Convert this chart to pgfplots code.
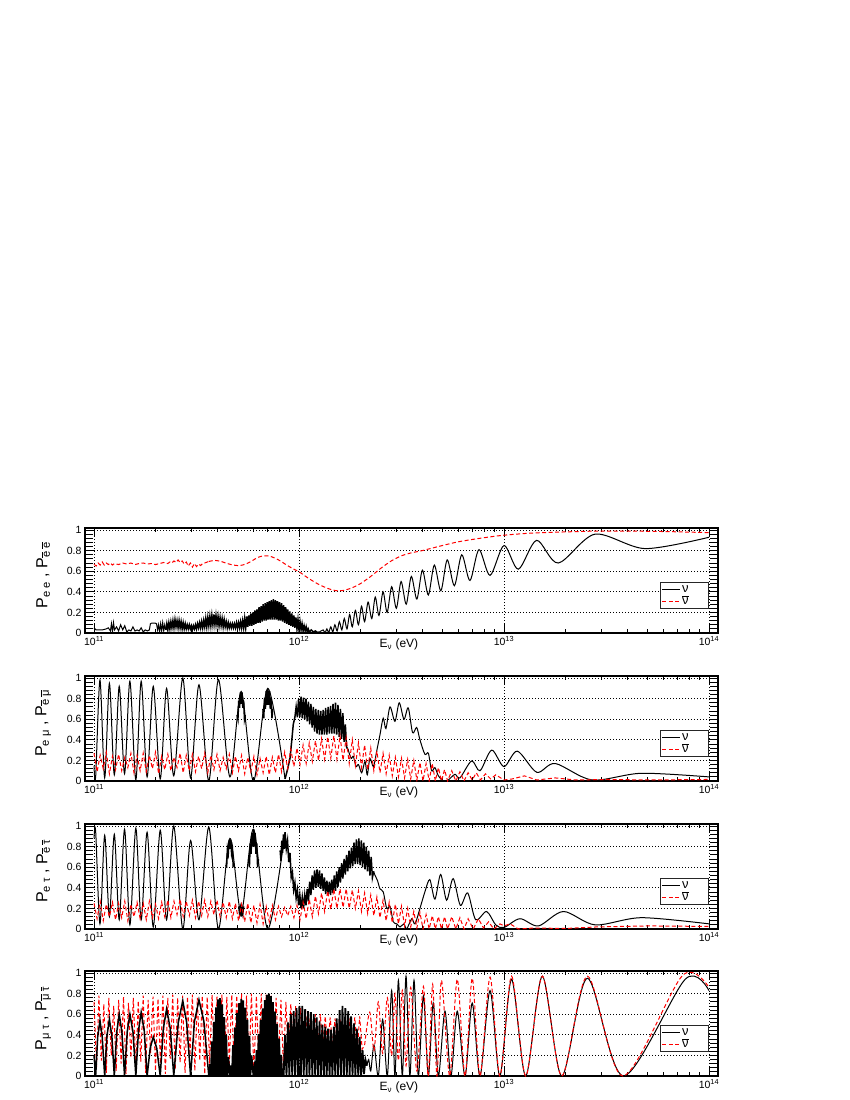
\documentclass[border=0pt]{standalone}
\usepackage{fontspec}
\setmainfont{Liberation Sans}
\usepackage{amsmath}
\usepackage{pgfplots}
\pgfplotsset{compat=1.18}

% bar over a letter (nu-bar, e-bar ...)
\newcommand{\ob}[1]{\leavevmode\setbox0\hbox{#1}\rlap{\raisebox{\dimexpr\ht0+0.7pt\relax}{\rule{\wd0}{1pt}}}\box0}
\newcommand{\nulegend}{%
  \addlegendimage{legend image code/.code={\draw[black, line width=1.3pt] (0pt,0pt) -- (18pt,0pt);}}
  \addlegendentry{ν\hspace*{17pt}\mbox{}}
  \addlegendimage{legend image code/.code={\draw[red, line width=1.3pt, dash pattern=on 4pt off 2.5pt] (0pt,0pt) -- (18pt,0pt);}}
  \addlegendentry{\ob{ν}\hspace*{17pt}\mbox{}}}

\pgfplotsset{
  nub/.style={draw=black, black, line width=1pt, no marks},
  nubd/.style={draw=black, black, line width=1.5pt, no marks},
  nubf/.style={draw=black, black, line width=1.8pt, no marks},
  nur/.style={draw=red, red, line width=1pt, no marks, dash pattern=on 4pt off 2.5pt},
  nuaxis/.style={
    at={(85pt,#1)}, anchor=south west,
    width=633pt, height=105pt, scale only axis,
    xmin=10.956, xmax=14.044, ymin=0, ymax=1.02,
    xtick={11,12,13,14},
    xticklabels={10\textsuperscript{11},10\textsuperscript{12},10\textsuperscript{13},10\textsuperscript{14}},
    minor xtick={11.301,11.477,11.602,11.699,11.778,11.845,11.903,11.954,
                 12.301,12.477,12.602,12.699,12.778,12.845,12.903,12.954,
                 13.301,13.477,13.602,13.699,13.778,13.845,13.903,13.954},
    ytick={0,0.2,0.4,0.6,0.8,1}, yticklabels={0,0.2,0.4,0.6,0.8,1},
    minor y tick num=4,
    tick align=inside,
    major tick length=9pt, minor tick length=8pt,
    xtick style={/pgfplots/minor tick length=4pt},
    tick style={black, line width=0.8pt},
    grid=major, grid style={black, line width=0.7pt, dash pattern=on 1pt off 2pt},
    axis line style={line width=1.3pt},
    ticklabel style={font=\fontsize{10.5}{12}\selectfont},
    xlabel={E\textsubscript{ν} (eV)},
    xlabel style={at={(axis description cs:0.532,0)}, anchor=north east, yshift=-2pt, font=\fontsize{12}{13}\selectfont},
    ylabel style={at={(axis description cs:-0.066,0.55)}, anchor=center, font=\fontsize{16}{17}\selectfont},
    legend style={at={(axis description cs:0.985,0.23)}, anchor=south east, draw=black!85, line width=0.9pt,
      fill=white, font=\fontsize{13}{13}\selectfont, row sep=0pt, inner sep=1.5pt,
      nodes={inner sep=1pt, text height=8pt, text depth=1.5pt}},
    legend cell align=left,
  }
}

\begin{document}
\begin{tikzpicture}
\path[use as bounding box] (0,0) rectangle (850pt,-1100pt);

%% ---------------- P_ee ----------------
\begin{axis}[nuaxis={-633pt}, ylabel={P\textsubscript{e\;e} , P\textsubscript{\ob{e}\;\ob{e}}}]
\nulegend
\addplot[nub, forget plot] coordinates {
(11.00,0.05)(11.01,0.03)(11.02,0.03)(11.04,0.03)(11.06,0.04)(11.07,0.05)(11.08,0.02)(11.085,0.09)(11.09,0.01)(11.095,0.1)(11.10,0.03)
(11.11,0.06)(11.12,0.02)(11.13,0.08)(11.14,0.03)(11.15,0.07)(11.16,0.01)(11.17,0.03)(11.18,0.02)(11.19,0.06)(11.20,0.02)(11.21,0.03)
(11.22,0.02)(11.23,0.05)(11.24,0.01)(11.25,0.03)(11.26,0.02)(11.27,0.03)(11.275,0.09)(11.28,0.095)(11.30,0.095)(11.305,0.09)(11.31,0.03)
(11.315,0.08)(11.32,0.01)(11.325,0.09)(11.33,0.02)(11.335,0.1)(11.34,0.02)(11.345,0.08)(11.35,0.03)
};
\addplot[nubd, forget plot] coordinates {
(11.35,0.03)(11.355,0.09)(11.36,0.03)(11.365,0.1)
(11.37,0.04)(11.375,0.11)(11.38,0.05)(11.385,0.12)(11.39,0.05)(11.395,0.13)(11.40,0.06)(11.405,0.12)(11.41,0.05)(11.415,0.12)(11.42,0.05)
(11.425,0.11)(11.43,0.04)(11.435,0.1)(11.44,0.04)(11.445,0.09)(11.45,0.04)(11.455,0.08)(11.46,0.04)(11.465,0.08)(11.47,0.04)(11.475,0.07)
(11.48,0.03)(11.485,0.07)(11.49,0.04)(11.495,0.08)(11.50,0.04)(11.505,0.09)(11.51,0.05)(11.515,0.1)(11.52,0.05)(11.525,0.11)(11.53,0.05)
(11.535,0.12)(11.54,0.06)(11.545,0.14)(11.55,0.06)(11.555,0.15)(11.56,0.07)(11.565,0.16)(11.57,0.07)(11.575,0.17)(11.58,0.08)(11.585,0.18)
(11.59,0.08)(11.595,0.17)(11.60,0.08)(11.605,0.16)(11.61,0.07)(11.615,0.15)(11.62,0.07)(11.625,0.14)(11.63,0.06)(11.635,0.13)(11.64,0.06)
(11.645,0.11)(11.65,0.05)(11.655,0.1)(11.66,0.05)(11.665,0.09)(11.67,0.05)(11.675,0.09)(11.68,0.05)(11.685,0.09)(11.69,0.05)(11.695,0.1)
(11.70,0.05)(11.705,0.1)(11.71,0.05)(11.715,0.11)(11.72,0.05)(11.725,0.12)(11.73,0.05)(11.735,0.14)(11.74,0.05)(11.745,0.16)(11.75,0.06)
(11.755,0.17)(11.76,0.07)(11.765,0.19)(11.77,0.07)(11.775,0.2)(11.78,0.08)(11.785,0.22)(11.79,0.09)(11.795,0.23)(11.80,0.1)(11.805,0.25)
(11.81,0.1)(11.815,0.26)(11.82,0.11)(11.825,0.28)(11.83,0.12)(11.835,0.29)(11.84,0.12)(11.845,0.3)(11.85,0.13)(11.855,0.31)(11.86,0.13)
(11.865,0.32)(11.87,0.13)(11.875,0.33)(11.88,0.13)(11.885,0.32)(11.89,0.13)(11.895,0.31)(11.90,0.12)(11.905,0.3)(11.91,0.12)(11.915,0.29)
(11.92,0.11)(11.925,0.27)(11.93,0.1)(11.935,0.25)(11.94,0.09)(11.945,0.23)(11.95,0.08)(11.955,0.21)(11.96,0.07)(11.965,0.19)(11.97,0.06)
(11.975,0.17)(11.98,0.05)(11.985,0.15)(11.99,0.04)(11.995,0.13)(12.00,0.03)(12.005,0.11)(12.01,0.03)(12.015,0.09)(12.02,0.02)(12.025,0.07)
(12.03,0.02)(12.035,0.06)(12.04,0.01)(12.045,0.04)(12.05,0.01)(12.06,0.03)(12.07,0.01)(12.08,0.02)(12.09,0.005)(12.10,0.01)
};
\addplot[nub, smooth, forget plot] coordinates {
(12.10,0.01)(12.118,0.03)(12.127,0.0)(12.136,0.04)(12.145,0.005)(12.155,0.06)(12.165,0.01)(12.175,0.08)(12.186,0.02)(12.197,0.11)
(12.209,0.03)(12.221,0.14)(12.234,0.04)(12.247,0.18)(12.26,0.06)(12.275,0.22)(12.29,0.08)(12.305,0.26)(12.32,0.11)(12.337,0.30)
(12.355,0.14)(12.372,0.35)(12.39,0.17)(12.41,0.40)(12.43,0.2)(12.452,0.45)(12.475,0.24)(12.498,0.50)(12.523,0.28)(12.548,0.55)
(12.575,0.33)(12.602,0.61)(12.631,0.37)(12.660,0.66)(12.692,0.41)(12.723,0.71)(12.758,0.46)(12.794,0.76)(12.834,0.51)(12.878,0.81)
(12.932,0.56)(13.0,0.85)(13.07,0.62)(13.159,0.90)(13.265,0.68)(13.444,0.96)(13.688,0.82)(14.0,0.93)
};
\addplot[nur, forget plot] coordinates {
(11.00,0.67)(11.01,0.65)(11.02,0.68)(11.03,0.66)(11.04,0.69)(11.05,0.66)(11.06,0.68)(11.07,0.665)(11.08,0.68)(11.09,0.66)(11.10,0.675)
(11.12,0.665)(11.14,0.68)(11.16,0.67)(11.18,0.68)(11.20,0.665)(11.22,0.675)(11.24,0.68)(11.26,0.67)(11.28,0.675)(11.30,0.665)(11.32,0.675)
(11.34,0.685)(11.36,0.675)(11.37,0.69)(11.38,0.68)(11.39,0.7)(11.40,0.685)(11.41,0.71)(11.42,0.685)(11.43,0.7)(11.44,0.67)(11.45,0.69)
(11.46,0.65)(11.47,0.68)(11.48,0.64)(11.49,0.675)(11.50,0.645)(11.51,0.67)(11.52,0.655)(11.53,0.675)(11.54,0.68)(11.56,0.695)
};
\addplot[nur, smooth, forget plot] coordinates {
(11.56,0.695)(11.59,0.705)(11.62,0.695)(11.65,0.675)(11.68,0.66)(11.71,0.655)(11.74,0.67)(11.77,0.7)(11.80,0.735)(11.83,0.75)(11.86,0.745)
(11.90,0.71)(11.94,0.66)(11.97,0.625)(12.0,0.595)(12.04,0.54)(12.08,0.49)(12.12,0.45)(12.16,0.42)(12.19,0.41)(12.22,0.415)(12.26,0.44)
(12.30,0.48)(12.35,0.55)(12.40,0.63)(12.45,0.70)(12.50,0.75)(12.55,0.78)(12.60,0.80)(12.70,0.85)(12.78,0.887)(12.9,0.925)(13.0,0.95)
(13.13,0.97)(13.265,0.98)(13.45,0.99)(13.6,0.99)(13.8,0.985)(14.0,0.975)
};
\end{axis}

%% ---------------- P_emu ----------------
\begin{axis}[nuaxis={-781pt}, ylabel={P\textsubscript{e\;μ} , P\textsubscript{\ob{e}\;\ob{μ}}}]
\nulegend
\addplot[nub, smooth, forget plot] coordinates {
(11.0,0.15)(11.008,0.04)(11.029,0.98)(11.052,0.03)(11.075,0.95)(11.099,0.06)(11.123,0.92)(11.149,0.07)(11.175,0.97)(11.204,0.01)
(11.23,0.97)(11.259,0.04)(11.289,0.92)(11.323,0.02)(11.354,0.90)(11.389,0.05)(11.433,1.0)(11.471,0.03)(11.512,0.935)(11.56,0.0)
(11.607,0.985)(11.663,0.04)(11.718,0.87)(11.778,0.0)(11.848,0.9)(11.932,0.02)
};
\addplot[nubd, forget plot] coordinates {
(11.698,0.64)(11.702,0.60)(11.706,0.78)(11.71,0.71)(11.714,0.86)(11.718,0.75)(11.722,0.86)(11.726,0.71)(11.73,0.78)(11.734,0.60)(11.738,0.64)
};
\addplot[nubd, forget plot] coordinates {
(11.824,0.70)(11.828,0.61)(11.832,0.81)(11.836,0.70)(11.84,0.876)(11.844,0.74)(11.848,0.9)(11.852,0.74)(11.856,0.876)(11.86,0.70)
(11.864,0.81)(11.868,0.61)(11.872,0.70)
};
\addplot[nubd, forget plot] coordinates {
(11.932,0.02)(11.945,0.12)(11.956,0.22)(11.965,0.4)(11.972,0.55)(11.98,0.62)(11.986,0.72)(11.992,0.62)(11.998,0.8)(12.004,0.62)
(12.01,0.82)(12.016,0.61)(12.022,0.81)(12.028,0.6)(12.034,0.8)(12.04,0.58)(12.046,0.77)(12.052,0.55)(12.058,0.75)(12.064,0.52)
(12.07,0.72)(12.076,0.48)(12.082,0.7)(12.088,0.46)(12.094,0.69)(12.10,0.45)(12.106,0.68)(12.112,0.45)(12.118,0.69)(12.124,0.45)
(12.13,0.71)(12.136,0.45)(12.142,0.72)(12.148,0.46)(12.154,0.73)(12.16,0.46)(12.166,0.75)(12.172,0.46)(12.178,0.76)(12.184,0.45)
(12.19,0.74)(12.196,0.43)(12.202,0.7)(12.208,0.41)(12.214,0.66)(12.22,0.38)(12.226,0.55)(12.232,0.33)(12.24,0.3)
};
\addplot[nub, smooth, forget plot] coordinates {
(12.24,0.3)(12.255,0.22)(12.265,0.24)(12.278,0.14)(12.29,0.16)(12.306,0.08)(12.322,0.19)(12.333,0.06)(12.346,0.22)(12.363,0.14)
(12.379,0.29)(12.395,0.45)(12.411,0.61)(12.424,0.51)(12.444,0.72)(12.468,0.58)(12.489,0.76)(12.512,0.6)(12.533,0.71)(12.554,0.47)
(12.574,0.52)(12.59,0.4)(12.614,0.26)(12.631,0.27)(12.647,0.1)(12.663,0.13)(12.68,0.05)(12.704,0.0)(12.728,0.01)(12.761,0.065)
(12.785,0.03)(12.842,0.195)(12.883,0.1)(12.94,0.3)(13.0,0.14)(13.065,0.29)(13.16,0.085)(13.25,0.17)(13.43,0.01)(13.67,0.075)(14.0,0.04)
};
\addplot[nur, forget plot] coordinates {
(11.000,0.27)(11.015,0.09)(11.030,0.25)(11.045,0.12)(11.060,0.28)(11.075,0.07)(11.090,0.24)(11.105,0.11)(11.120,0.26)(11.135,0.10)
(11.150,0.23)(11.165,0.13)(11.180,0.27)(11.195,0.08)(11.210,0.25)(11.225,0.10)(11.240,0.27)(11.255,0.09)(11.270,0.25)(11.285,0.12)
(11.300,0.28)(11.315,0.07)(11.330,0.24)(11.345,0.11)(11.360,0.26)(11.375,0.10)(11.390,0.23)(11.405,0.13)(11.420,0.27)(11.435,0.08)
(11.450,0.25)(11.465,0.10)(11.480,0.26)(11.495,0.09)(11.510,0.24)(11.525,0.12)(11.540,0.27)(11.555,0.08)(11.570,0.25)(11.585,0.11)
(11.600,0.26)(11.615,0.10)(11.630,0.23)(11.645,0.12)(11.660,0.26)(11.675,0.08)(11.690,0.24)(11.705,0.10)(11.720,0.25)(11.735,0.07)
(11.750,0.23)(11.765,0.09)(11.780,0.24)(11.795,0.06)(11.810,0.22)(11.825,0.08)(11.840,0.24)(11.855,0.06)(11.870,0.23)(11.885,0.08)
(11.900,0.26)(11.915,0.09)(11.930,0.28)(11.945,0.12)(11.960,0.31)(11.975,0.14)(11.990,0.32)(12.005,0.16)(12.020,0.35)(12.035,0.17)
(12.050,0.37)(12.065,0.19)(12.080,0.39)(12.095,0.2)(12.110,0.41)(12.125,0.21)(12.140,0.43)(12.155,0.22)(12.170,0.44)(12.185,0.21)
(12.200,0.44)(12.215,0.2)(12.230,0.42)(12.245,0.17)(12.260,0.40)(12.275,0.15)(12.290,0.37)(12.305,0.13)(12.320,0.35)(12.335,0.11)
(12.350,0.32)(12.365,0.1)(12.380,0.29)(12.395,0.08)(12.410,0.27)(12.425,0.07)(12.440,0.25)(12.455,0.05)(12.470,0.23)(12.485,0.04)
(12.500,0.22)(12.515,0.03)(12.530,0.21)(12.545,0.02)(12.560,0.20)(12.575,0.01)(12.590,0.18)(12.605,0.0)(12.620,0.17)(12.635,0.0)
(12.650,0.17)(12.665,0.0)(12.680,0.13)(12.695,0.0)(12.710,0.11)(12.725,0.0)(12.745,0.10)(12.765,0.0)(12.785,0.09)(12.805,0.0)
(12.825,0.08)(12.845,0.01)(12.865,0.08)(12.885,0.01)(12.91,0.07)(12.935,0.02)(12.96,0.06)(13.0,0.01)(13.04,0.02)(13.1,0.05)
(13.16,0.01)(13.25,0.03)(13.35,0.01)(13.5,0.015)(13.7,0.01)(14.0,0.015)
};
\end{axis}

%% ---------------- P_etau ----------------
\begin{axis}[nuaxis={-929pt}, ylabel={P\textsubscript{e\;τ} , P\textsubscript{\ob{e}\;\ob{τ}}}]
\nulegend
\addplot[nub, smooth, forget plot] coordinates {
(11.0,0.88)(11.008,0.95)(11.029,0.05)(11.052,0.91)(11.075,0.12)(11.099,0.92)(11.123,0.09)(11.149,0.97)(11.175,0.04)(11.204,0.98)
(11.23,0.09)(11.259,0.94)(11.289,0.02)(11.323,0.96)(11.354,0.09)(11.389,1.0)(11.433,0.0)(11.471,0.86)(11.512,0.09)(11.56,0.99)
(11.607,0.0)(11.663,0.88)(11.718,0.16)(11.778,0.97)(11.848,0.0)(11.932,0.94)
};
\addplot[nubd, forget plot] coordinates {
(11.643,0.62)(11.647,0.61)(11.651,0.78)(11.655,0.735)(11.659,0.869)(11.663,0.78)(11.667,0.869)(11.671,0.735)(11.675,0.78)(11.679,0.61)(11.683,0.62)
};
\addplot[nubd, forget plot] coordinates {
(11.706,0.22)(11.71,0.15)(11.714,0.2)(11.718,0.12)(11.722,0.2)(11.726,0.15)(11.73,0.22)
};
\addplot[nubd, forget plot] coordinates {
(11.754,0.68)(11.758,0.60)(11.762,0.832)(11.766,0.73)(11.77,0.934)(11.774,0.80)(11.778,0.97)(11.782,0.80)(11.786,0.934)(11.79,0.73)
(11.794,0.832)(11.798,0.60)(11.802,0.68)
};
\addplot[nubd, forget plot] coordinates {
(11.908,0.763)(11.912,0.66)(11.916,0.858)(11.92,0.74)(11.924,0.919)(11.928,0.78)
(11.932,0.94)(11.938,0.78)(11.944,0.86)(11.950,0.65)(11.956,0.74)(11.962,0.5)(11.968,0.55)(11.974,0.38)(11.980,0.45)(11.986,0.3)
(11.992,0.38)(11.998,0.23)(12.004,0.33)(12.010,0.2)(12.016,0.31)(12.022,0.2)(12.028,0.33)(12.034,0.23)(12.040,0.39)(12.046,0.27)
(12.052,0.46)(12.058,0.33)(12.064,0.52)(12.070,0.38)(12.076,0.57)(12.082,0.4)(12.088,0.58)(12.094,0.41)(12.100,0.57)(12.106,0.39)
(12.112,0.54)(12.118,0.37)(12.124,0.5)(12.130,0.34)(12.136,0.47)(12.142,0.33)(12.148,0.46)(12.154,0.33)(12.160,0.48)(12.166,0.35)
(12.172,0.52)(12.178,0.37)(12.184,0.56)(12.190,0.41)(12.196,0.6)(12.202,0.45)(12.208,0.64)(12.214,0.49)(12.220,0.68)(12.226,0.53)
(12.232,0.72)(12.238,0.56)(12.244,0.76)(12.250,0.59)(12.256,0.79)(12.262,0.61)(12.268,0.84)(12.274,0.63)(12.280,0.87)(12.286,0.63)
(12.292,0.88)(12.298,0.62)(12.304,0.86)(12.310,0.6)(12.316,0.84)(12.322,0.58)(12.328,0.8)(12.334,0.56)(12.340,0.76)(12.346,0.52)
(12.352,0.7)(12.358,0.5)(12.364,0.56)
};
\addplot[nub, smooth, forget plot] coordinates {
(12.364,0.56)(12.371,0.52)(12.383,0.47)(12.395,0.39)(12.411,0.36)(12.428,0.2)(12.444,0.22)(12.46,0.07)(12.477,0.05)(12.493,0.02)
(12.512,0.05)(12.525,0.0)(12.55,0.1)(12.566,0.05)(12.59,0.2)(12.614,0.36)(12.638,0.48)(12.663,0.29)(12.691,0.53)(12.72,0.28)
(12.752,0.49)(12.787,0.23)(12.823,0.35)(12.862,0.09)(12.915,0.17)(12.96,0.04)(13.0,0.015)(13.078,0.1)(13.168,0.03)(13.29,0.17)
(13.445,0.04)(13.67,0.11)(14.0,0.05)
};
\addplot[nur, forget plot] coordinates {
(11.000,0.25)(11.015,0.10)(11.030,0.27)(11.045,0.08)(11.060,0.24)(11.075,0.12)(11.090,0.26)(11.105,0.09)(11.120,0.25)(11.135,0.11)
(11.150,0.27)(11.165,0.08)(11.180,0.24)(11.195,0.12)(11.210,0.26)(11.225,0.10)(11.240,0.25)(11.255,0.09)(11.270,0.27)(11.285,0.11)
(11.300,0.24)(11.315,0.10)(11.330,0.26)(11.345,0.12)(11.360,0.28)(11.375,0.11)(11.390,0.27)(11.405,0.14)(11.420,0.29)(11.435,0.12)
(11.450,0.27)(11.465,0.13)(11.480,0.28)(11.495,0.11)(11.510,0.27)(11.525,0.13)(11.540,0.28)(11.555,0.12)(11.570,0.27)(11.585,0.14)
(11.600,0.28)(11.615,0.12)(11.630,0.26)(11.645,0.11)(11.660,0.27)(11.675,0.10)(11.690,0.25)(11.705,0.08)(11.720,0.24)(11.735,0.07)
(11.750,0.25)(11.765,0.06)(11.780,0.23)(11.795,0.06)(11.810,0.24)(11.825,0.05)(11.840,0.22)(11.855,0.07)(11.870,0.23)(11.885,0.09)
(11.900,0.22)(11.915,0.12)(11.930,0.21)(11.945,0.13)(11.960,0.22)(11.975,0.11)(11.990,0.23)(12.005,0.09)(12.020,0.26)(12.035,0.10)
(12.050,0.29)(12.065,0.12)(12.080,0.32)(12.095,0.15)(12.110,0.35)(12.125,0.17)(12.140,0.37)(12.155,0.19)(12.170,0.39)(12.185,0.2)
(12.200,0.39)(12.215,0.21)(12.230,0.39)(12.245,0.2)(12.260,0.38)(12.275,0.2)(12.290,0.37)(12.305,0.17)(12.320,0.35)(12.335,0.15)
(12.350,0.33)(12.365,0.13)(12.380,0.31)(12.395,0.11)(12.410,0.28)(12.425,0.08)(12.440,0.26)(12.455,0.06)(12.470,0.24)(12.485,0.05)
(12.500,0.22)(12.515,0.03)(12.530,0.2)(12.545,0.02)(12.560,0.17)(12.575,0.01)(12.590,0.16)(12.605,0.0)(12.620,0.14)(12.635,0.0)
(12.650,0.13)(12.665,0.0)(12.680,0.12)(12.695,0.0)(12.710,0.12)(12.725,0.0)(12.745,0.12)(12.765,0.0)(12.785,0.11)(12.805,0.0)
(12.825,0.1)(12.85,0.0)(12.875,0.1)(12.9,0.01)(12.925,0.07)(12.95,0.0)(12.98,0.05)(13.0,0.03)(13.03,0.05)(13.07,0.0)
(13.15,0.01)(13.3,0.005)(13.45,0.02)(13.7,0.03)(14.0,0.025)
};
\end{axis}

%% ---------------- P_mutau ----------------
\begin{axis}[nuaxis={-1076pt}, ylabel={P\textsubscript{μ\;τ} , P\textsubscript{\ob{μ}\;\ob{τ}}}]
\nulegend
\addplot[nur, forget plot] coordinates {
(11.000,0.72)(11.012,0.08)(11.024,0.78)(11.036,0.15)(11.048,0.70)(11.060,0.03)(11.072,0.76)(11.084,0.2)(11.096,0.68)(11.108,0.05)
(11.120,0.74)(11.132,0.12)(11.144,0.77)(11.156,0.02)(11.168,0.71)(11.180,0.18)(11.192,0.76)(11.204,0.06)(11.216,0.73)(11.228,0.14)
(11.240,0.78)(11.252,0.03)(11.264,0.74)(11.276,0.22)(11.288,0.77)(11.300,0.05)(11.312,0.75)(11.324,0.12)(11.336,0.78)(11.348,0.02)
(11.360,0.76)(11.372,0.17)(11.384,0.79)(11.396,0.06)(11.408,0.76)(11.420,0.13)(11.432,0.78)(11.444,0.03)(11.456,0.77)(11.468,0.2)
(11.480,0.79)(11.492,0.05)(11.504,0.76)(11.516,0.15)(11.528,0.78)(11.540,0.02)(11.552,0.77)(11.564,0.12)(11.576,0.79)(11.588,0.06)
(11.600,0.77)(11.612,0.18)(11.624,0.79)(11.636,0.04)(11.648,0.77)(11.660,0.12)(11.672,0.79)(11.684,0.03)(11.696,0.78)(11.708,0.15)
(11.720,0.80)(11.732,0.05)(11.744,0.78)(11.756,0.1)(11.768,0.8)(11.780,0.02)(11.792,0.78)(11.804,0.14)(11.816,0.8)(11.828,0.05)
(11.840,0.79)(11.852,0.12)(11.864,0.78)(11.876,0.04)(11.888,0.76)(11.900,0.15)(11.912,0.74)(11.924,0.06)(11.936,0.72)(11.948,0.2)
(11.960,0.7)(11.972,0.25)(11.984,0.68)(11.996,0.28)(12.008,0.66)(12.020,0.3)(12.032,0.64)(12.044,0.27)(12.056,0.62)(12.068,0.3)
(12.080,0.6)(12.092,0.28)(12.104,0.6)(12.116,0.3)(12.128,0.58)(12.140,0.27)(12.152,0.57)(12.164,0.29)(12.176,0.56)(12.188,0.26)
(12.200,0.56)(12.212,0.28)(12.224,0.55)(12.236,0.25)(12.248,0.56)(12.260,0.27)(12.272,0.57)(12.284,0.24)(12.296,0.58)(12.308,0.26)
(12.320,0.3)
};
\addplot[nubd, forget plot] coordinates {
(11.0,0.2)(11.008,0)(11.018,0.38)(11.029,0.54)(11.04,0.38)(11.052,0)(11.063,0.39)(11.075,0.55)(11.087,0.39)(11.099,0)
(11.111,0.43)(11.123,0.6)(11.136,0.43)(11.149,0)(11.162,0.43)(11.175,0.6)(11.19,0.43)(11.204,0)(11.217,0.44)(11.23,0.62)
(11.245,0.44)(11.259,0)(11.274,0.27)(11.289,0.38)(11.306,0.27)(11.323,0)(11.338,0.46)(11.354,0.65)(11.372,0.46)(11.389,0)
(11.411,0.52)(11.433,0.73)(11.452,0.52)(11.471,0)(11.49,0.53)(11.512,0.74)(11.536,0.53)(11.56,0)
};
\addplot[nubf, forget plot] coordinates {
(11.56,0)(11.565,0.115)(11.57,0)(11.575,0.336)(11.58,0)(11.585,0.525)(11.59,0)(11.595,0.666)(11.60,0)(11.605,0.745)(11.61,0)
(11.615,0.756)(11.62,0)(11.625,0.696)(11.63,0)(11.635,0.572)(11.64,0)(11.645,0.397)(11.65,0)(11.655,0.183)(11.663,0)
(11.668,0.102)(11.673,0)(11.678,0.299)(11.683,0)(11.688,0.473)(11.693,0)(11.698,0.613)(11.703,0)(11.708,0.707)(11.713,0)
(11.718,0.749)(11.723,0)(11.728,0.734)(11.733,0)(11.738,0.665)(11.743,0)(11.748,0.548)(11.753,0)(11.758,0.389)(11.763,0)
(11.768,0.201)(11.778,0)
(11.783,0.085)(11.788,0)(11.793,0.252)(11.798,0)(11.803,0.407)(11.808,0)(11.813,0.544)(11.818,0)(11.823,0.656)(11.828,0)
(11.833,0.738)(11.838,0)(11.843,0.787)(11.848,0)(11.853,0.8)(11.858,0)(11.863,0.776)(11.868,0)(11.873,0.717)(11.878,0)
(11.883,0.625)(11.888,0)(11.893,0.506)(11.898,0)(11.903,0.363)(11.908,0)(11.913,0.205)(11.918,0)(11.923,0.034)(11.925,0)
(11.932,0.4)(11.939,0)(11.946,0.52)(11.953,0)(11.96,0.6)(11.967,0)(11.974,0.63)(11.981,0)(11.988,0.66)(11.995,0)
(12.002,0.68)(12.009,0)(12.016,0.68)(12.023,0)(12.03,0.65)(12.037,0)(12.044,0.63)(12.051,0)(12.058,0.62)(12.065,0)
(12.072,0.6)(12.079,0)(12.086,0.57)(12.093,0)(12.1,0.53)(12.107,0)(12.114,0.5)(12.121,0)(12.128,0.48)(12.135,0)
(12.142,0.46)(12.149,0)(12.156,0.45)(12.163,0)(12.17,0.48)(12.177,0)(12.184,0.56)(12.191,0)(12.198,0.64)(12.205,0)
(12.212,0.68)(12.219,0)(12.226,0.66)(12.233,0)(12.24,0.63)(12.247,0)(12.254,0.58)(12.261,0)(12.268,0.51)(12.275,0)
(12.282,0.46)(12.289,0)(12.296,0.38)(12.303,0)(12.31,0.25)(12.317,0.02)(12.324,0.16)(12.331,0.1)
};
\addplot[nub, smooth, forget plot] coordinates {
(12.331,0.1)(12.34,0.16)(12.35,0.05)(12.366,0.3)(12.387,0.0)(12.408,0.55)(12.431,0.0)(12.452,0.83)(12.468,0.0)(12.485,0.93)
(12.504,0.0)(12.522,0.97)(12.541,0.0)(12.561,0.93)(12.582,0.0)(12.607,0.78)(12.631,0.0)(12.655,0.71)(12.68,0.0)(12.712,0.63)
(12.741,0.0)(12.772,0.63)(12.81,0.0)(12.845,0.71)(12.883,0.0)(12.932,0.83)(12.98,0.0)(13.037,0.94)(13.106,0.0)(13.187,0.97)
(13.282,0.0)(13.407,0.95)(13.583,0.0)(13.884,0.94)(14.0,0.83)
};
\addplot[nur, smooth, forget plot] coordinates {
(12.32,0.3)(12.345,0.62)(12.366,0.25)(12.387,0.72)(12.408,0.22)(12.431,0.76)(12.452,0.2)(12.468,0.8)(12.485,0.15)(12.504,0.83)
(12.522,0.1)(12.545,0.86)(12.575,0.05)(12.607,0.87)(12.63,0.0)(12.652,0.89)(12.673,0.0)(12.695,0.93)(12.735,0.0)(12.772,0.94)
(12.81,0.0)(12.845,0.95)(12.883,0.0)(12.932,0.96)(12.98,0.0)(13.037,0.97)(13.106,0.0)(13.187,0.97)(13.282,0.0)(13.407,0.97)
(13.58,0.0)(13.87,0.975)(14.0,0.86)
};
\end{axis}
\end{tikzpicture}
\end{document}
